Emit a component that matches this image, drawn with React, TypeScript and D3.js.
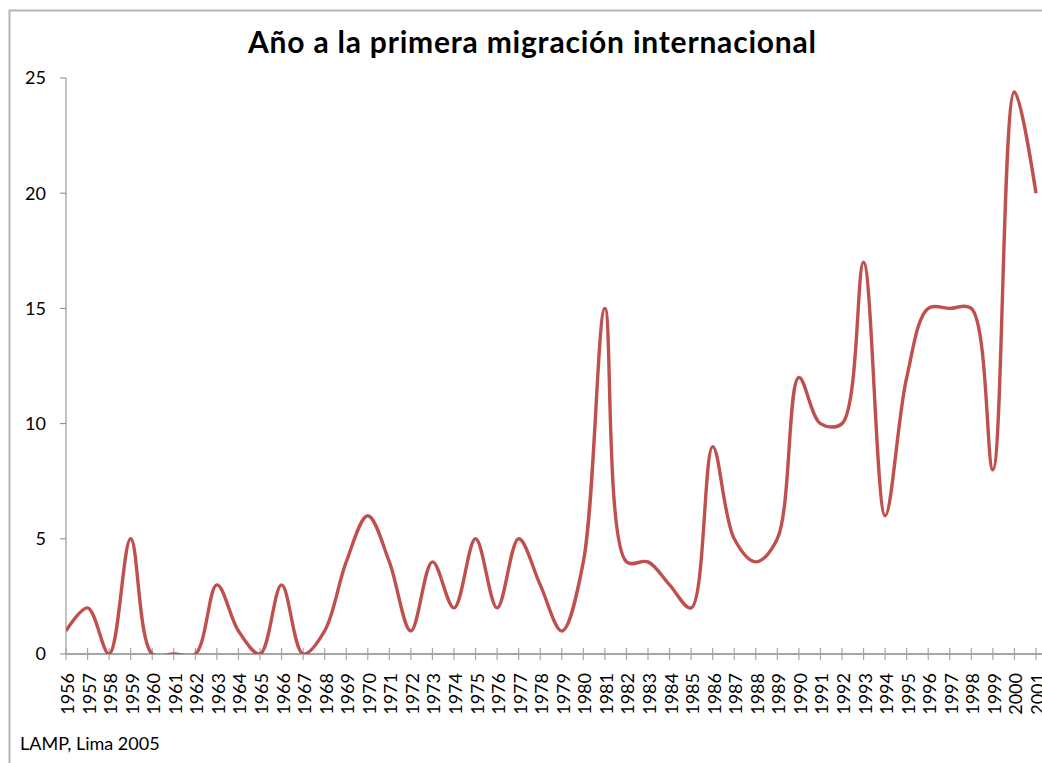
import React from "react";
import * as d3 from "d3";

// Año a la primera migración internacional (LAMP, Lima 2005)
const years: number[] = d3.range(1956, 2002);
const counts: number[] = [
  1, 2, 0, 5, 0, 0, 0, 3, 1, 0, 3, 0, 1, 4, 6, 4, 1, 4, 2, 5, 2, 5, 3, 1, 4,
  15, 4, 4, 3, 2, 9, 5, 4, 5, 12, 10, 10, 17, 6, 12, 15, 15, 15, 8, 24.4, 20,
];
const yTicks: number[] = [0, 5, 10, 15, 20, 25];

const title = "Año a la primera migración internacional";
const source = "LAMP, Lima 2005";

export default function App() {
  const width = 1042;
  const height = 763;
  const margin = { top: 78, right: 6, bottom: 109, left: 66 };
  const font = "Lato, 'Open Sans', sans-serif";

  const x = d3
    .scaleLinear()
    .domain([years[0], years[years.length - 1]])
    .range([margin.left, width - margin.right]);
  const y = d3
    .scaleLinear()
    .domain([0, 25])
    .range([height - margin.bottom, margin.top]);

  const data = years.map((yr, i) => ({ yr, v: counts[i] }));
  const line = d3
    .line<{ yr: number; v: number }>()
    .x((d) => x(d.yr))
    .y((d) => y(d.v))
    .curve(d3.curveCatmullRom.alpha(0.5));

  const y0 = y(0);

  return (
    <svg
      width={width}
      height={height}
      style={{ position: "absolute", left: 0, top: 0, background: "#fff" }}
    >
      <defs>
        <clipPath id="plot">
          <rect x={margin.left} y={margin.top - 2} width={width - margin.left} height={y0 - margin.top + 2} />
        </clipPath>
      </defs>

      {/* chart frame, cropped on the right and bottom */}
      <path d={`M9.5,${height}V10.5H${width}`} fill="none" stroke="#b3b3b3" strokeWidth={2} />

      <text
        x={248}
        y={53}
        textLength={568}
        lengthAdjust="spacing"
        fontFamily={font}
        fontWeight="bold"
        fontSize={30}
        fill="#000"
      >
        {title}
      </text>

      {/* y axis */}
      <line x1={margin.left} x2={margin.left} y1={y(25)} y2={y0} stroke="#868686" />
      {yTicks.map((t) => (
        <g key={t}>
          <line x1={margin.left - 6} x2={margin.left} y1={y(t)} y2={y(t)} stroke="#868686" />
          <text
            x={46}
            y={y(t)}
            dy="0.35em"
            textAnchor="end"
            fontFamily={font}
            fontSize={18}
            fill="#000"
          >
            {t}
          </text>
        </g>
      ))}

      {/* x axis */}
      <line x1={margin.left} x2={width} y1={y0} y2={y0} stroke="#a6a6a6" strokeWidth={2} />
      {years.map((yr) => (
        <g key={yr}>
          <line x1={x(yr)} x2={x(yr)} y1={y0 - 6} y2={y0 + 6} stroke="#a6a6a6" strokeWidth={1.2} />
          <text
            transform={`translate(${x(yr) + 8},${y0 + 19}) rotate(-90)`}
            textAnchor="end"
            fontFamily={font}
            fontSize={18}
            fill="#000"
          >
            {yr}
          </text>
        </g>
      ))}

      <path
        d={line(data) ?? ""}
        fill="none"
        stroke="#c0504d"
        strokeWidth={3.4}
        strokeLinejoin="round"
        clipPath="url(#plot)"
      />

      <text x={20} y={750} fontFamily={font} fontSize={18} fill="#000">
        {source}
      </text>
    </svg>
  );
}
